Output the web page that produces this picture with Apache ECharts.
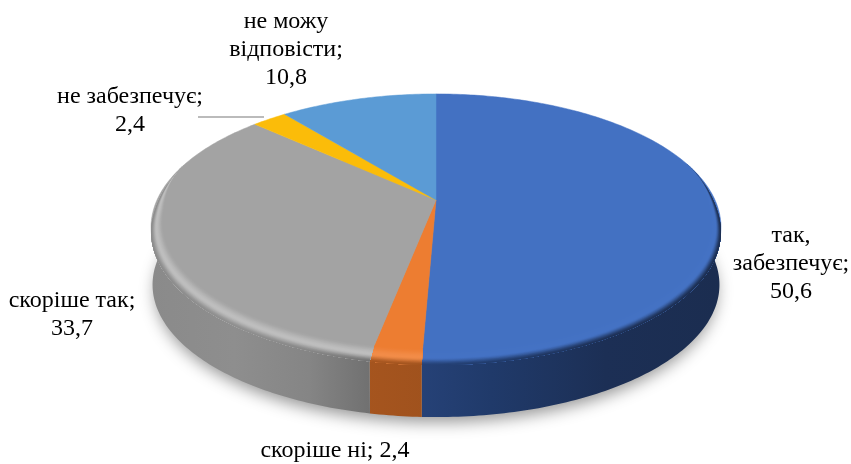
<!DOCTYPE html>
<html><head><meta charset="utf-8">
<style>html,body{margin:0;padding:0;background:#fff}#c{width:851px;height:464px}</style>
<script src="https://cdn.jsdelivr.net/npm/echarts@6/dist/echarts.min.js"></script>
</head><body><div id="c"></div>
<script>
const categories = ['так,\nзабезпечує', 'скоріше ні', 'скоріше так', 'не забезпечує', 'не можу\nвідповісти'];
const values = [50.6, 2.4, 33.7, 2.4, 10.8];
const separators = [';\n', '; ', ';\n', ';\n', ';\n'];

const faceColors = ['#4371C2', '#ED7D31', '#A3A3A3', '#FBBC09', '#5B9BD5'];
const rimColors = ['#4472C4', '#F28C48', '#BEBEBE', '#FBBC09', '#5B9BD5'];
const wallStops = [
  [[0.33, '#2C4A86'], [0.6, '#203A6A'], [0.8, '#1C2F55'], [1, '#1B2D50']],
  [[0.33, '#A8561F'], [0.6, '#9A4F1C'], [1, '#9A4F1C']],
  [[0, '#8A8A8A'], [0.15, '#8E8E8E'], [0.28, '#858585'], [0.4, '#6E6E6E'], [1, '#6E6E6E']],
  [[0, '#A07800'], [1, '#A07800']],
  [[0, '#3A6A95'], [1, '#3A6A95']]
];
const labelAnchors = [[791, 264], [335, 451], [72, 315], [130, 111], [286, 50]];
const leader = [[198, 117], [264, 117]];

// perspective projection of the pie disc
const P = {cx: 436, cy: 200, R: 279, a: 87, c: -0.203, depth: 58, bandDy: 5, inset: 0.06, xMin: 149, xMax: 720};
const total = values.reduce((s, v) => s + v, 0);
const project = (theta, r, dy) => {
  const u = r * Math.sin(theta), v = -r * Math.cos(theta);
  const d = 1 + P.c * v;
  return [P.cx + P.R * u / d, (P.a * v + P.cy) / d + (dy || 0)];
};
const sliceAngles = i => {
  let s = 0;
  for (let k = 0; k < i; k++) s += values[k];
  return [s / total * 2 * Math.PI, (s + values[i]) / total * 2 * Math.PI];
};
const arcThetas = (t0, t1) => {
  const n = Math.max(2, Math.ceil((t1 - t0) / 0.015));
  const out = [];
  for (let i = 0; i <= n; i++) out.push(t0 + (t1 - t0) * i / n);
  return out;
};
const smooth = x => { x = Math.min(1, Math.max(0, x)); return x * x * (3 - 2 * x); };
const widthAt = theta => smooth((-Math.cos(theta) + 0.3) / 0.4);
const insetAt = theta => P.inset * widthAt(theta) * (0.6 + 0.4 * Math.max(0, -Math.cos(theta)));
const frontThetas = i => {
  const [a, b] = sliceAngles(i);
  return arcThetas(a, b).filter(t => -Math.cos(t) > -0.3);
};
const hex = c => [1, 3, 5].map(k => parseInt(c.substr(k, 2), 16));
const mix = (a, b, t) => {
  const A = hex(a), B = hex(b);
  return '#' + A.map((x, k) => Math.round(x + (B[k] - x) * t).toString(16).padStart(2, '0')).join('');
};
const grad = stops => new echarts.graphic.LinearGradient(P.xMin, 0, P.xMax, 0,
  stops.map(s => ({offset: s[0], color: s[1]})), true);

function renderWall(params, api) {
  const i = params.dataIndex, th = frontThetas(i);
  if (th.length < 2) return {type: 'group', children: []};
  const top = th.map(t => project(t, 1, P.bandDy * widthAt(t)));
  const bot = th.slice().reverse().map(t => project(t, 0.995, P.depth * smooth((-Math.cos(t) + 0.3) / 0.3)));
  return {type: 'polygon', shape: {points: top.concat(bot)},
    style: {fill: grad(wallStops[i]), stroke: null}};
}
function renderFace(params, api) {
  const i = params.dataIndex, [a, b] = sliceAngles(i);
  const pts = [project(0, 0)].concat(arcThetas(a, b).map(t => project(t, 1)));
  return {type: 'polygon', shape: {points: pts},
    style: {fill: faceColors[i], stroke: faceColors[i], lineWidth: 0.5}};
}
function renderBevel(params, api) {
  const i = params.dataIndex, th = frontThetas(i);
  const children = [];
  if (th.length < 2) return {type: 'group', children};
  const N = 18, peak = 0.55;
  const prof = t => th.map(x => project(x, 1 - insetAt(x) * (1 - t), P.bandDy * widthAt(x) * t));
  const outerEdge = prof(1);
  const e = x => x * x * (3 - 2 * x);
  for (let k = 0; k < N; k++) {
    const tm = (k + 0.5) / N;
    const stops = wallStops[i].map(s => [s[0], tm < peak
      ? mix(faceColors[i], rimColors[i], e(tm / peak))
      : mix(rimColors[i], s[1], e((tm - peak) / (1 - peak)))]);
    // each strip reaches out to the rim; later strips paint over it, which hides seams
    const inner = prof(k / N);
    children.push({type: 'polygon', shape: {points: inner.concat(outerEdge.slice().reverse())},
      style: {fill: grad(stops), stroke: null}});
  }
  return {type: 'group', children};
}
function renderShadow() {
  const pts = arcThetas(0, 2 * Math.PI).map(t => project(t, 0.985, 58));
  return {type: 'polygon', shape: {points: pts},
    style: {fill: '#bbbbbb', shadowColor: 'rgba(0,0,0,0.42)', shadowBlur: 16, shadowOffsetY: 7}};
}
function renderLabel(params, api) {
  const i = params.dataIndex;
  const txt = categories[i] + separators[i] + api.value(0).toFixed(1).replace('.', ',');
  const kids = [{type: 'text', style: {
    text: txt, x: labelAnchors[i][0], y: labelAnchors[i][1], align: 'center', verticalAlign: 'middle',
    fill: '#000', font: '24px "Liberation Serif"', lineHeight: 28}}];
  if (i === 3) kids.push({type: 'line',
    shape: {x1: leader[0][0], y1: leader[0][1], x2: leader[1][0], y2: leader[1][1]},
    style: {stroke: '#A5A5A5', lineWidth: 1.5}});
  return {type: 'group', children: kids};
}
const seriesData = values.map((v, i) => ({name: categories[i].replace('\n', ' '), value: [v]}));
const layer = (fn, z, data) => ({type: 'custom', coordinateSystem: 'none', renderItem: fn, data: data || seriesData, z, silent: true, animation: false, clip: false});

const chart = echarts.init(document.getElementById('c'), null, {renderer: 'canvas'});
chart.setOption({
  backgroundColor: '#fff',
  animation: false,
  series: [
    layer(renderShadow, 1, [{value: [total]}]),
    layer(renderWall, 2),
    layer(renderFace, 3),
    layer(renderBevel, 4),
    layer(renderLabel, 5)
  ]
});
</script></body></html>
